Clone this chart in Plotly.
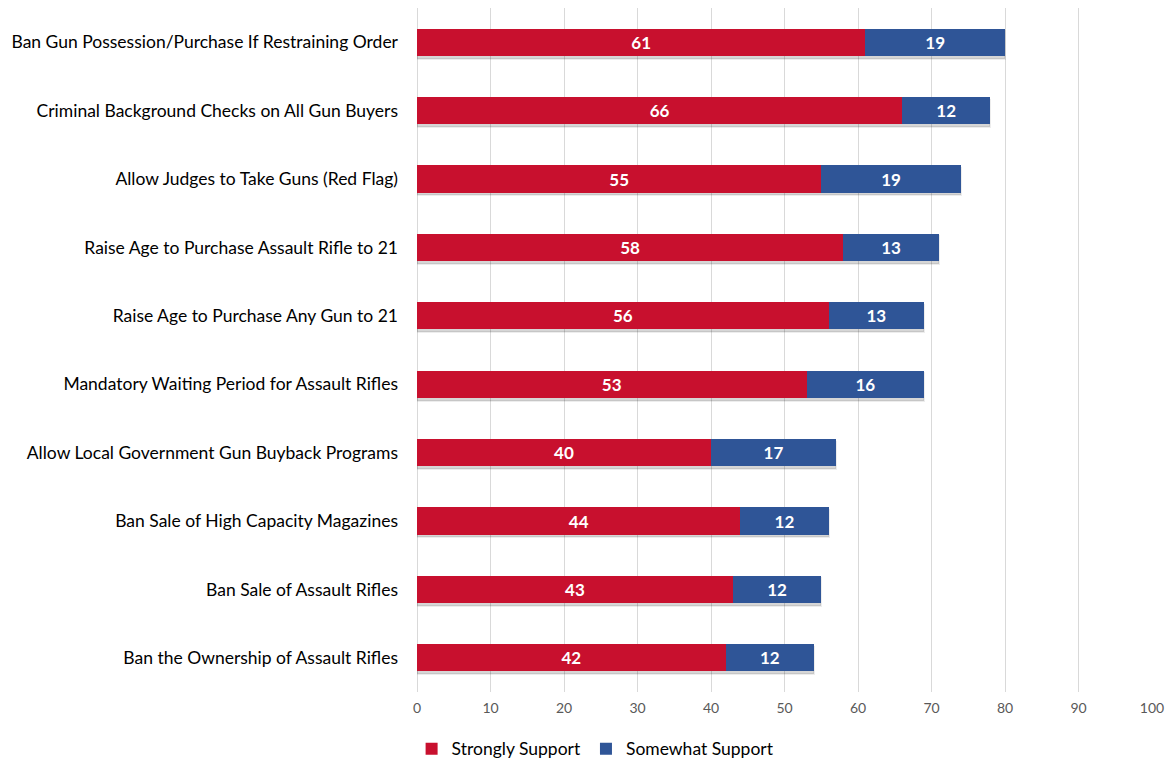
import plotly.graph_objects as go

categories = [
    "Ban Gun Possession/Purchase If Restraining Order",
    "Criminal Background Checks on All Gun Buyers",
    "Allow Judges to Take Guns (Red Flag)",
    "Raise Age to Purchase Assault Rifle to 21",
    "Raise Age to Purchase Any Gun to 21",
    "Mandatory Waiting Period for Assault Rifles",
    "Allow Local Government Gun Buyback Programs",
    "Ban Sale of High Capacity Magazines",
    "Ban Sale of Assault Rifles",
    "Ban the Ownership of Assault Rifles",
]
strongly = [61, 66, 55, 58, 56, 53, 40, 44, 43, 42]
somewhat = [19, 12, 19, 13, 13, 16, 17, 12, 12, 12]
x_ticks = [0, 10, 20, 30, 40, 50, 60, 70, 80, 90, 100]
totals = [a + b for a, b in zip(strongly, somewhat)]

RED = "#C8102E"
BLUE = "#2F5597"
FONT = "Lato, Open Sans, Liberation Sans, sans-serif"

fig = go.Figure()
# soft drop shadow under each stacked bar (drawn on the base axis, beneath the bars)
fig.add_trace(go.Bar(
    y=categories, x=totals, orientation="h", showlegend=False, hoverinfo="skip",
    marker=dict(color="rgba(0,0,0,0.16)", line=dict(width=2, color="rgba(0,0,0,0.07)")),
    width=0.4, offset=-0.24, yaxis="y",
))
for vals, name, color in [(strongly, "Strongly Support", RED), (somewhat, "Somewhat Support", BLUE)]:
    fig.add_trace(go.Bar(
        y=categories, x=vals, orientation="h", name=name, yaxis="y2",
        marker=dict(color=color, line=dict(width=0)),
        text=vals, textposition="inside", insidetextanchor="middle", textangle=0,
        textfont=dict(color="white", size=17, family=FONT, weight="bold"),
        width=0.4,
    ))

fig.update_layout(
    barmode="stack",
    width=1167, height=771,
    margin=dict(l=417, r=15, t=8, b=79, autoexpand=False),
    plot_bgcolor="white", paper_bgcolor="white",
    font=dict(family=FONT, color="#000000"),
    showlegend=True,
    legend=dict(orientation="h", x=0.243, xanchor="center", y=-0.083, yanchor="middle",
                font=dict(size=17.5, color="#000000", family=FONT),
                traceorder="normal", itemwidth=30, tracegroupgap=0),
    uniformtext=dict(mode="show", minsize=10),
    xaxis=dict(
        range=[0, 100], tickvals=x_ticks, showgrid=True, gridcolor="#D9D9D9", gridwidth=1,
        zeroline=True, zerolinecolor="#D9D9D9", zerolinewidth=1,
        tickfont=dict(size=14, color="#595959", family=FONT),
        ticks="", ticklen=0, automargin=False, ticklabelstandoff=6,
        ticklabeloverflow="allow",
    ),
    yaxis=dict(
        categoryorder="array", categoryarray=categories[::-1],
        tickfont=dict(size=17.5, color="#000000", family=FONT),
        ticks="", ticklabelstandoff=18, showline=False, automargin=False,
    ),
    yaxis2=dict(
        overlaying="y", matches="y", visible=False,
        categoryorder="array", categoryarray=categories[::-1],
        showgrid=False, automargin=False,
    ),
)

fig.write_html(
    "out.html",
    config={"displayModeBar": False},
    post_script="document.body.style.margin='0';document.body.style.overflow='hidden';",
)
